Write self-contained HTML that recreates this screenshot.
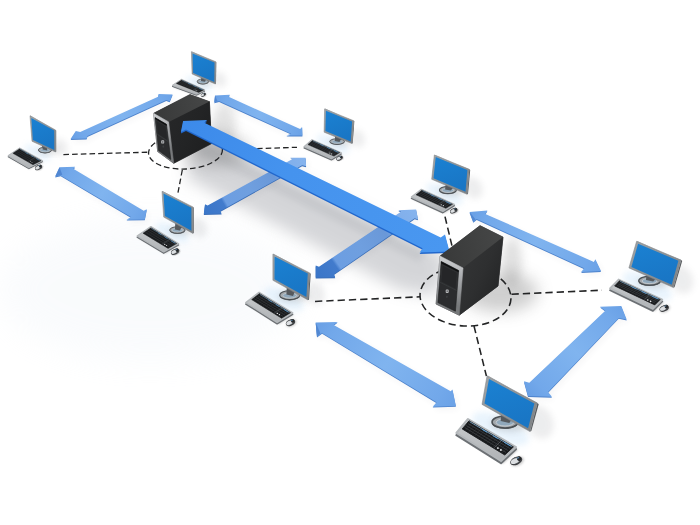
<!DOCTYPE html>
<html lang="en">
<head>
<meta charset="utf-8">
<title>Network diagram</title>
<style>
html,body{margin:0;padding:0;background:#fff;}
body{width:700px;height:525px;overflow:hidden;}
svg{display:block;}
</style>
</head>
<body>
<svg width="700" height="525" viewBox="0 0 700 525">
<defs>
<linearGradient id="svA" gradientUnits="userSpaceOnUse" x1="169" y1="122" x2="212" y2="144"><stop offset="0" stop-color="#262728"/><stop offset=".5" stop-color="#232425"/><stop offset="1" stop-color="#1e1f20"/></linearGradient>
<linearGradient id="stA" gradientUnits="userSpaceOnUse" x1="154" y1="113" x2="209" y2="102"><stop offset="0" stop-color="#383939"/><stop offset="1" stop-color="#464747"/></linearGradient>
<linearGradient id="sfA" gradientUnits="userSpaceOnUse" x1="154" y1="113" x2="158" y2="152"><stop offset="0" stop-color="#cfd1d3"/><stop offset=".35" stop-color="#aeb0b3"/><stop offset="1" stop-color="#77797b"/></linearGradient>
<linearGradient id="sbA" gradientUnits="userSpaceOnUse" x1="169" y1="122" x2="174" y2="163"><stop offset="0" stop-color="#c9cbcd"/><stop offset=".5" stop-color="#9b9da0"/><stop offset="1" stop-color="#6f7173"/></linearGradient>
<linearGradient id="svB" gradientUnits="userSpaceOnUse" x1="463" y1="268" x2="498" y2="286"><stop offset="0" stop-color="#323334"/><stop offset=".5" stop-color="#2e2f30"/><stop offset="1" stop-color="#262728"/></linearGradient>
<linearGradient id="stB" gradientUnits="userSpaceOnUse" x1="440" y1="256" x2="503" y2="237"><stop offset="0" stop-color="#383939"/><stop offset="1" stop-color="#464747"/></linearGradient>
<linearGradient id="sfB" gradientUnits="userSpaceOnUse" x1="440" y1="256" x2="436" y2="304"><stop offset="0" stop-color="#cfd1d3"/><stop offset=".35" stop-color="#aeb0b3"/><stop offset="1" stop-color="#77797b"/></linearGradient>
<linearGradient id="sbB" gradientUnits="userSpaceOnUse" x1="463" y1="268" x2="459" y2="315"><stop offset="0" stop-color="#c9cbcd"/><stop offset=".5" stop-color="#9b9da0"/><stop offset="1" stop-color="#6f7173"/></linearGradient>
<filter id="b1" x="-50%" y="-50%" width="200%" height="200%"><feGaussianBlur stdDeviation="0.8"/></filter>
<filter id="b3" x="-50%" y="-50%" width="200%" height="200%"><feGaussianBlur stdDeviation="3"/></filter>
<filter id="b5" x="-80%" y="-80%" width="260%" height="260%"><feGaussianBlur stdDeviation="5"/></filter>
<filter id="b8" x="-50%" y="-50%" width="200%" height="200%"><feGaussianBlur stdDeviation="8"/></filter>
<filter id="b16" x="-50%" y="-50%" width="200%" height="200%"><feGaussianBlur stdDeviation="16"/></filter>
<linearGradient id="fr" x1="0" y1="0" x2="1" y2="1"><stop offset="0" stop-color="#a0a4a7"/><stop offset="1" stop-color="#7d8184"/></linearGradient>
<linearGradient id="scr" x1="0" y1="0" x2="0.3" y2="1"><stop offset="0" stop-color="#1b81d2"/><stop offset="1" stop-color="#1976c5"/></linearGradient>
<linearGradient id="kb" x1="0" y1="0" x2="0" y2="1"><stop offset="0" stop-color="#c8cbcd"/><stop offset="1" stop-color="#b0b3b6"/></linearGradient>
<linearGradient id="big" gradientUnits="userSpaceOnUse" x1="183" y1="121" x2="448" y2="249"><stop offset="0" stop-color="#3c8aea"/><stop offset=".4" stop-color="#4593ee"/><stop offset="1" stop-color="#4997f0"/></linearGradient>
<linearGradient id="gTL" gradientUnits="userSpaceOnUse" x1="71" y1="139" x2="173" y2="94"><stop offset="0" stop-color="#689fe5"/><stop offset="0.12" stop-color="#72a8ea"/><stop offset="0.5" stop-color="#80b4ef"/><stop offset="0.88" stop-color="#72a8ea"/><stop offset="1" stop-color="#6aa1e6"/></linearGradient>
<linearGradient id="gTR" gradientUnits="userSpaceOnUse" x1="215" y1="96" x2="302" y2="136"><stop offset="0" stop-color="#689fe5"/><stop offset="0.12" stop-color="#72a8ea"/><stop offset="0.5" stop-color="#80b4ef"/><stop offset="0.88" stop-color="#72a8ea"/><stop offset="1" stop-color="#6aa1e6"/></linearGradient>
<linearGradient id="gBL" gradientUnits="userSpaceOnUse" x1="60" y1="167" x2="145" y2="219"><stop offset="0" stop-color="#689fe5"/><stop offset="0.12" stop-color="#72a8ea"/><stop offset="0.5" stop-color="#80b4ef"/><stop offset="0.88" stop-color="#72a8ea"/><stop offset="1" stop-color="#6aa1e6"/></linearGradient>
<linearGradient id="g34" gradientUnits="userSpaceOnUse" x1="204" y1="214" x2="306" y2="158"><stop offset="0" stop-color="#3a76c8"/><stop offset="0.19" stop-color="#427bcc"/><stop offset="0.215" stop-color="#6c9ee2"/><stop offset="0.45" stop-color="#6f9fdf"/><stop offset="0.68" stop-color="#6a98d8"/><stop offset="0.8" stop-color="#80aeea"/><stop offset="1" stop-color="#86b4ee"/></linearGradient>
<linearGradient id="g65" gradientUnits="userSpaceOnUse" x1="316" y1="278" x2="416" y2="209"><stop offset="0" stop-color="#3a76c8"/><stop offset="0.19" stop-color="#427bcc"/><stop offset="0.215" stop-color="#6c9ee2"/><stop offset="0.45" stop-color="#6f9fdf"/><stop offset="0.68" stop-color="#6a98d8"/><stop offset="0.8" stop-color="#80aeea"/><stop offset="1" stop-color="#86b4ee"/></linearGradient>
<linearGradient id="g57" gradientUnits="userSpaceOnUse" x1="470" y1="212" x2="601" y2="271"><stop offset="0" stop-color="#689fe5"/><stop offset="0.12" stop-color="#72a8ea"/><stop offset="0.5" stop-color="#80b4ef"/><stop offset="0.88" stop-color="#72a8ea"/><stop offset="1" stop-color="#6aa1e6"/></linearGradient>
<linearGradient id="g68" gradientUnits="userSpaceOnUse" x1="316" y1="323" x2="456" y2="406"><stop offset="0" stop-color="#689fe5"/><stop offset="0.12" stop-color="#72a8ea"/><stop offset="0.5" stop-color="#80b4ef"/><stop offset="0.88" stop-color="#72a8ea"/><stop offset="1" stop-color="#6aa1e6"/></linearGradient>
<linearGradient id="g87" gradientUnits="userSpaceOnUse" x1="528" y1="396" x2="621" y2="306"><stop offset="0" stop-color="#689fe5"/><stop offset="0.12" stop-color="#72a8ea"/><stop offset="0.5" stop-color="#80b4ef"/><stop offset="0.88" stop-color="#72a8ea"/><stop offset="1" stop-color="#6aa1e6"/></linearGradient>
</defs>
<rect width="700" height="525" fill="#fff"/>
<g id="shadows">
<polygon points="196,128 430,244 448,262 436,296 400,290 186,178" fill="#8b8e96" opacity=".36" filter="url(#b8)"/>
<polygon points="200,140 425,252 420,262 196,152" fill="#7c8088" opacity=".16" filter="url(#b3)"/>
<ellipse cx="215" cy="150" rx="34" ry="16" fill="#777" opacity=".35" filter="url(#b8)"/>
<ellipse cx="224" cy="126" rx="12" ry="22" fill="#777" opacity=".2" filter="url(#b5)"/>
<ellipse cx="512" cy="262" rx="10" ry="24" fill="#777" opacity=".22" filter="url(#b5)"/>
<ellipse cx="500" cy="292" rx="38" ry="20" fill="#777" opacity=".35" filter="url(#b8)"/>
<ellipse cx="150" cy="290" rx="150" ry="70" fill="#e6eef6" opacity=".22" filter="url(#b16)"/>
</g>
<g opacity=".05" filter="url(#b3)" transform="translate(2,3)">
<polygon points="70.6,139.0 75.8,131.0 80.2,132.1 158.1,96.7 158.6,93.9 172.6,94.4 169.7,101.3 166.3,100.1 87.4,136.1 86.6,138.5" fill="#445"/>
<polygon points="215.0,95.5 229.8,94.7 228.6,96.8 300.1,129.0 302.1,127.1 302.4,135.6 286.4,135.6 291.1,133.7 219.1,101.0 214.4,102.3" fill="#445"/>
<polygon points="59.5,167.3 75.2,166.8 73.3,168.8 143.7,210.8 146.8,209.2 144.8,219.4 126.4,219.7 131.1,217.1 60.7,175.4 55.2,176.5" fill="#445"/>
<polygon points="203.8,214.0 205.0,204.2 207.6,205.5 293.0,158.8 290.1,157.7 305.6,157.7 306.1,166.3 302.1,165.3 220.2,211.1 221.7,213.6" fill="#445"/>
<polygon points="315.7,277.5 315.7,265.5 319.0,266.7 401.0,211.7 398.3,210.2 416.1,209.4 418.1,219.4 414.7,218.3 334.0,274.2 335.2,277.3" fill="#445"/>
<polygon points="469.6,212.1 487.4,210.4 485.3,213.9 593.9,261.9 595.4,259.3 601.0,271.1 581.1,272.1 584.3,268.3 476.7,219.0 473.3,221.8" fill="#445"/>
<polygon points="315.7,322.6 337.6,321.9 333.7,324.9 450.7,391.3 452.5,389.5 455.9,405.9 432.7,406.7 436.6,402.3 322.1,332.9 317.0,336.5" fill="#445"/>
<polygon points="528.0,396.0 524.0,381.3 529.3,382.7 605.3,310.7 600.0,306.7 621.3,306.1 626.7,319.5 618.7,317.9 548.0,392.0 552.0,396.8" fill="#445"/>
</g>
<g fill="none" stroke="#232425" stroke-width="1.3" stroke-dasharray="5.6 3.1">
<ellipse cx="185.5" cy="151.5" rx="37" ry="17.5" transform="rotate(-3 185.5 151.5)"/>
<path d="M63.4,154.6 L148.5,152.2"/>
<path d="M257,148.6 L297,147.3"/>
<path d="M182.3,170 L177.4,195.7"/>
</g>
<g fill="none" stroke="#232425" stroke-width="1.55" stroke-dasharray="7.3 4.0">
<ellipse cx="465.5" cy="296.5" rx="45.5" ry="29.5" transform="rotate(3 465.5 296.5)"/>
<path d="M315,301.4 L420,296.8"/>
<path d="M511.5,294.2 L602,290.2"/>
<path d="M474,326 L486.4,376"/>
<path d="M445,216.6 L452,246"/>
</g>
<g id="arrows">
<polygon points="70.6,139.9 75.8,131.9 80.2,133.0 158.1,97.6 158.6,94.8 172.6,95.3 169.7,102.2 166.3,101.0 87.4,137.0 86.6,139.4" fill="#4c82cc"/><polygon points="70.6,139.0 75.8,131.0 80.2,132.1 158.1,96.7 158.6,93.9 172.6,94.4 169.7,101.3 166.3,100.1 87.4,136.1 86.6,138.5" fill="url(#gTL)"/>
<polygon points="215.0,96.4 229.8,95.6 228.6,97.7 300.1,129.9 302.1,128.0 302.4,136.5 286.4,136.5 291.1,134.6 219.1,101.9 214.4,103.2" fill="#4c82cc"/><polygon points="215.0,95.5 229.8,94.7 228.6,96.8 300.1,129.0 302.1,127.1 302.4,135.6 286.4,135.6 291.1,133.7 219.1,101.0 214.4,102.3" fill="url(#gTR)"/>
<polygon points="59.5,168.2 75.2,167.7 73.3,169.7 143.7,211.7 146.8,210.1 144.8,220.3 126.4,220.6 131.1,218.0 60.7,176.3 55.2,177.4" fill="#4c82cc"/><polygon points="59.5,167.3 75.2,166.8 73.3,168.8 143.7,210.8 146.8,209.2 144.8,219.4 126.4,219.7 131.1,217.1 60.7,175.4 55.2,176.5" fill="url(#gBL)"/>
<polygon points="203.8,214.9 205.0,205.1 207.6,206.4 293.0,159.7 290.1,158.6 305.6,158.6 306.1,167.2 302.1,166.2 220.2,212.0 221.7,214.5" fill="#3a6eb8"/><polygon points="203.8,214.0 205.0,204.2 207.6,205.5 293.0,158.8 290.1,157.7 305.6,157.7 306.1,166.3 302.1,165.3 220.2,211.1 221.7,213.6" fill="url(#g34)"/>
<polygon points="315.7,278.4 315.7,266.4 319.0,267.6 401.0,212.6 398.3,211.1 416.1,210.3 418.1,220.3 414.7,219.2 334.0,275.1 335.2,278.2" fill="#3a6eb8"/><polygon points="315.7,277.5 315.7,265.5 319.0,266.7 401.0,211.7 398.3,210.2 416.1,209.4 418.1,219.4 414.7,218.3 334.0,274.2 335.2,277.3" fill="url(#g65)"/>
<polygon points="469.6,213.0 487.4,211.3 485.3,214.8 593.9,262.8 595.4,260.2 601.0,272.0 581.1,273.0 584.3,269.2 476.7,219.9 473.3,222.7" fill="#4c82cc"/><polygon points="469.6,212.1 487.4,210.4 485.3,213.9 593.9,261.9 595.4,259.3 601.0,271.1 581.1,272.1 584.3,268.3 476.7,219.0 473.3,221.8" fill="url(#g57)"/>
<polygon points="315.7,323.5 337.6,322.8 333.7,325.8 450.7,392.2 452.5,390.4 455.9,406.8 432.7,407.6 436.6,403.2 322.1,333.8 317.0,337.4" fill="#4c82cc"/><polygon points="315.7,322.6 337.6,321.9 333.7,324.9 450.7,391.3 452.5,389.5 455.9,405.9 432.7,406.7 436.6,402.3 322.1,332.9 317.0,336.5" fill="url(#g68)"/>
<polygon points="528.0,396.9 524.0,382.2 529.3,383.6 605.3,311.6 600.0,307.6 621.3,307.0 626.7,320.4 618.7,318.8 548.0,392.9 552.0,397.7" fill="#4c82cc"/><polygon points="528.0,396.0 524.0,381.3 529.3,382.7 605.3,310.7 600.0,306.7 621.3,306.1 626.7,319.5 618.7,317.9 548.0,392.0 552.0,396.8" fill="url(#g87)"/>
<polygon points="59.5,167.3 55.2,176.5 62.3,174.8" fill="#4a7fcb" opacity=".75"/>
<polygon points="215.0,95.5 214.4,102.3 217.6,101.2" fill="#4a7fcb" opacity=".75"/>
<polygon points="469.6,212.1 473.3,221.8 475.6,219.6" fill="#4a7fcb" opacity=".75"/>
<polygon points="315.7,322.6 317.0,336.5 320.4,333.4" fill="#4a7fcb" opacity=".75"/>
</g>
<g id="pc1">
<ellipse cx="199.2" cy="83.7" rx="14.3" ry="5.7" fill="#d3e9fb" opacity=".5" filter="url(#b3)" transform="rotate(24 199.2 82.7)"/>
<ellipse cx="205.5" cy="82.1" rx="8.6" ry="3.2" fill="#555" opacity=".2" filter="url(#b3)"/>
<ellipse cx="219.8" cy="79.6" rx="6.1" ry="7.9" fill="#60646a" opacity=".11" filter="url(#b3)" transform="rotate(-25 219.8 79.6)"/>
<ellipse cx="202.9" cy="81.9" rx="5.7" ry="2.5" fill="#5d6164"/>
<ellipse cx="202.9" cy="81.4" rx="5.7" ry="2.5" fill="#a3a8ac" stroke="#4b5054" stroke-width="0.70"/>
<ellipse cx="202.9" cy="81.6" rx="3.9" ry="1.5" fill="#8ea9bd" stroke="#dfe3e6" stroke-width="0.31" opacity=".9"/>
<polygon points="201.4,76.2 207.0,78.6 204.8,81.8 201.0,81.0" fill="#55595d"/>
<polygon points="215.7,61.7 216.3,62.3 216.0,83.8 215.4,84.0" fill="#55595c"/>
<polygon points="191.4,51.7 191.8,51.5 216.3,62.3 215.7,61.7" fill="#9da1a4"/>
<polygon points="191.4,51.7 215.7,61.7 215.4,84.0 192.1,74.0" fill="url(#fr)" stroke="#7b7f83" stroke-width=".5"/>
<polygon points="192.5,53.5 214.5,62.5 214.3,81.9 193.1,72.9" fill="url(#scr)"/>
<polygon points="182.3,80.6 205.9,91.3 197.3,95.6 173.0,86.7" fill="#666" opacity=".35" filter="url(#b1)"/>
<polygon points="181.4,80.3 205.0,91.0 196.4,95.3 172.1,86.4" fill="#6c7074" stroke="#6c7074" stroke-width="0.94" stroke-linejoin="round"/>
<polygon points="181.4,79.3 205.0,90.0 196.4,94.3 172.1,85.4" fill="url(#kb)" stroke="#b4b8bb" stroke-width="0.94" stroke-linejoin="round"/>
<polygon points="181.7,80.0 203.7,89.9 198.7,92.4 176.3,83.5" fill="#17191b" stroke="#17191b" stroke-width="0.39" stroke-linejoin="round"/>
<line x1="180.6" y1="81.2" x2="201.8" y2="90.4" stroke="#4a4e52" stroke-width="0.27"/>
<line x1="179.3" y1="82.0" x2="200.6" y2="91.0" stroke="#4a4e52" stroke-width="0.27"/>
<line x1="178.0" y1="82.9" x2="199.4" y2="91.6" stroke="#4a4e52" stroke-width="0.27"/>
<line x1="182.6" y1="81.2" x2="178.2" y2="84.0" stroke="#3a3d40" stroke-width="0.20"/>
<line x1="184.2" y1="81.8" x2="179.8" y2="84.6" stroke="#3a3d40" stroke-width="0.20"/>
<line x1="185.7" y1="82.5" x2="181.3" y2="85.3" stroke="#3a3d40" stroke-width="0.20"/>
<line x1="187.3" y1="83.2" x2="182.9" y2="85.9" stroke="#3a3d40" stroke-width="0.20"/>
<line x1="188.9" y1="83.9" x2="184.5" y2="86.6" stroke="#3a3d40" stroke-width="0.20"/>
<line x1="190.5" y1="84.6" x2="186.1" y2="87.2" stroke="#3a3d40" stroke-width="0.20"/>
<line x1="192.0" y1="85.3" x2="187.7" y2="87.8" stroke="#3a3d40" stroke-width="0.20"/>
<line x1="193.6" y1="86.0" x2="189.3" y2="88.5" stroke="#3a3d40" stroke-width="0.20"/>
<line x1="195.2" y1="86.7" x2="190.9" y2="89.1" stroke="#3a3d40" stroke-width="0.20"/>
<line x1="196.8" y1="87.4" x2="192.5" y2="89.7" stroke="#3a3d40" stroke-width="0.20"/>
<line x1="198.3" y1="88.1" x2="194.1" y2="90.4" stroke="#3a3d40" stroke-width="0.20"/>
<line x1="199.9" y1="88.8" x2="195.7" y2="91.0" stroke="#3a3d40" stroke-width="0.20"/>
<line x1="201.5" y1="89.5" x2="197.3" y2="91.7" stroke="#3a3d40" stroke-width="0.20"/>
<line x1="197.7" y1="87.5" x2="193.1" y2="90.0" stroke="#5a5e62" stroke-width="0.35"/>
<line x1="181.9" y1="80.4" x2="203.0" y2="89.8" stroke="#7fa9c9" stroke-width="0.39"/>
<line x1="187.9" y1="83.2" x2="190.5" y2="84.4" stroke="#5a9ed6" stroke-width="0.43"/>
<line x1="193.4" y1="85.7" x2="195.8" y2="86.7" stroke="#5a9ed6" stroke-width="0.43"/>
<line x1="198.9" y1="88.1" x2="202.2" y2="89.6" stroke="#5a9ed6" stroke-width="0.43"/>
<circle cx="195.2" cy="90.1" r="0.43" fill="#e8eaec"/>
<circle cx="196.8" cy="90.7" r="0.43" fill="#e8eaec"/>
<g transform="translate(203.2,94.6) rotate(-25) scale(0.55)">
<ellipse cx="0.6" cy="1.2" rx="5.4" ry="3.2" fill="#555" opacity=".3" filter="url(#b1)"/>
<ellipse cx="0" cy="0.5" rx="4.9" ry="2.9" fill="#3a3c3f"/>
<ellipse cx="0" cy="0" rx="4.6" ry="2.6" fill="#55585b"/>
<ellipse cx="-0.9" cy="0.1" rx="3.4" ry="1.9" fill="#dcdfe2"/>
<ellipse cx="2.7" cy="-0.2" rx="1.7" ry="1.8" fill="#26282a"/>
<ellipse cx="2.2" cy="-1.1" rx="1.1" ry="0.5" fill="#6fa8d8" opacity=".7"/>
</g>
</g>
<g id="serverA"><polygon points="153.5,113.3 190.0,94.4 209.4,101.6 211.5,143.6 173.7,163.3 157.7,151.5" fill="#2e2f30" stroke="#2e2f30" stroke-width=".5" stroke-linejoin="round"/>
<polygon points="168.6,121.9 209.4,101.6 211.5,143.6 173.7,163.3" fill="url(#svA)" stroke="url(#svA)" stroke-width=".5"/>
<polygon points="153.5,113.3 190.0,94.4 209.4,101.6 168.6,121.9" fill="url(#stA)"/>
<polygon points="153.5,113.3 168.6,121.9 173.7,163.3 157.7,151.5" fill="url(#sfA)" stroke="url(#sfA)" stroke-width=".6" stroke-linejoin="round"/>
<polygon points="155.0,117.6 166.5,124.3 170.8,159.5 158.6,150.6" fill="#2b2c2e" stroke="#1d1e1f" stroke-width=".6" stroke-linejoin="round"/>
<polygon points="155.0,117.6 166.5,124.3 166.7,125.9 155.1,119.0" fill="#0f1011"/>
<polygon points="156.0,120.3 166.0,126.3 167.7,140.6 157.5,134.0" fill="#252628" stroke="#343638" stroke-width=".5"/>
<line x1="157.2" y1="134.3" x2="168.3" y2="141.7" stroke="#3a3c3e" stroke-width=".7"/>
<rect x="161.2" y="140.2" width="3" height="3.4" rx=".9" fill="#b9bbbd"/>
<rect x="162.0" y="141.0" width="1.4" height="1.8" rx=".4" fill="#6a6c6e"/>
<rect x="162.5" y="145.5" width="1.6" height="2" rx=".5" fill="#3c3e40"/></g>
<g id="pc2">
<ellipse cx="38.1" cy="152.6" rx="14.5" ry="5.8" fill="#d3e9fb" opacity=".5" filter="url(#b3)" transform="rotate(24 38.1 151.6)"/>
<ellipse cx="47.9" cy="150.8" rx="9.9" ry="3.6" fill="#555" opacity=".2" filter="url(#b3)"/>
<ellipse cx="60.4" cy="147.1" rx="6.8" ry="8.8" fill="#60646a" opacity=".11" filter="url(#b3)" transform="rotate(-25 60.4 147.1)"/>
<ellipse cx="45.0" cy="150.6" rx="6.6" ry="2.8" fill="#5d6164"/>
<ellipse cx="45.0" cy="150.0" rx="6.6" ry="2.8" fill="#a3a8ac" stroke="#4b5054" stroke-width="0.78"/>
<ellipse cx="45.0" cy="150.2" rx="4.5" ry="1.7" fill="#8ea9bd" stroke="#dfe3e6" stroke-width="0.34" opacity=".9"/>
<polygon points="41.4,143.6 47.0,146.2 47.2,150.4 42.8,149.6" fill="#55595d"/>
<polygon points="55.5,130.0 56.2,130.6 56.2,151.8 55.5,152.0" fill="#55595c"/>
<polygon points="30.0,115.8 30.4,115.6 56.2,130.6 55.5,130.0" fill="#9da1a4"/>
<polygon points="30.0,115.8 55.5,130.0 55.5,152.0 32.0,141.3" fill="url(#fr)" stroke="#7b7f83" stroke-width=".5"/>
<polygon points="31.3,118.0 54.2,130.6 54.3,149.9 32.9,140.0" fill="url(#scr)"/>
<polygon points="20.6,149.2 43.7,162.0 29.8,169.0 8.9,157.0" fill="#666" opacity=".35" filter="url(#b1)"/>
<polygon points="19.6,148.9 42.7,161.7 28.8,168.7 7.9,156.7" fill="#6c7074" stroke="#6c7074" stroke-width="0.96" stroke-linejoin="round"/>
<polygon points="19.6,147.9 42.7,160.7 28.8,167.7 7.9,155.7" fill="url(#kb)" stroke="#b4b8bb" stroke-width="0.96" stroke-linejoin="round"/>
<polygon points="19.7,148.8 41.1,160.7 33.0,164.7 12.9,153.3" fill="#17191b" stroke="#17191b" stroke-width="0.40" stroke-linejoin="round"/>
<line x1="18.2" y1="150.3" x2="38.4" y2="161.6" stroke="#4a4e52" stroke-width="0.28"/>
<line x1="16.6" y1="151.4" x2="36.5" y2="162.6" stroke="#4a4e52" stroke-width="0.28"/>
<line x1="14.9" y1="152.5" x2="34.6" y2="163.5" stroke="#4a4e52" stroke-width="0.28"/>
<line x1="20.4" y1="150.2" x2="14.7" y2="153.9" stroke="#3a3d40" stroke-width="0.20"/>
<line x1="21.9" y1="151.0" x2="16.1" y2="154.7" stroke="#3a3d40" stroke-width="0.20"/>
<line x1="23.4" y1="151.9" x2="17.5" y2="155.6" stroke="#3a3d40" stroke-width="0.20"/>
<line x1="24.9" y1="152.7" x2="19.0" y2="156.4" stroke="#3a3d40" stroke-width="0.20"/>
<line x1="26.5" y1="153.6" x2="20.4" y2="157.2" stroke="#3a3d40" stroke-width="0.20"/>
<line x1="28.0" y1="154.4" x2="21.9" y2="158.0" stroke="#3a3d40" stroke-width="0.20"/>
<line x1="29.5" y1="155.3" x2="23.3" y2="158.8" stroke="#3a3d40" stroke-width="0.20"/>
<line x1="31.0" y1="156.1" x2="24.8" y2="159.6" stroke="#3a3d40" stroke-width="0.20"/>
<line x1="32.5" y1="156.9" x2="26.2" y2="160.5" stroke="#3a3d40" stroke-width="0.20"/>
<line x1="34.0" y1="157.8" x2="27.7" y2="161.3" stroke="#3a3d40" stroke-width="0.20"/>
<line x1="35.6" y1="158.6" x2="29.1" y2="162.1" stroke="#3a3d40" stroke-width="0.20"/>
<line x1="37.1" y1="159.5" x2="30.6" y2="162.9" stroke="#3a3d40" stroke-width="0.20"/>
<line x1="38.6" y1="160.3" x2="32.0" y2="163.7" stroke="#3a3d40" stroke-width="0.20"/>
<line x1="35.1" y1="157.8" x2="28.2" y2="161.6" stroke="#5a5e62" stroke-width="0.36"/>
<line x1="19.9" y1="149.2" x2="40.3" y2="160.6" stroke="#7fa9c9" stroke-width="0.40"/>
<line x1="25.6" y1="152.7" x2="28.2" y2="154.1" stroke="#5a9ed6" stroke-width="0.44"/>
<line x1="30.9" y1="155.6" x2="33.3" y2="156.9" stroke="#5a9ed6" stroke-width="0.44"/>
<line x1="36.2" y1="158.6" x2="39.4" y2="160.4" stroke="#5a9ed6" stroke-width="0.44"/>
<circle cx="30.6" cy="161.6" r="0.44" fill="#e8eaec"/>
<circle cx="32.0" cy="162.4" r="0.44" fill="#e8eaec"/>
<g transform="translate(38.4,167.2) rotate(-25) scale(0.78)">
<ellipse cx="0.6" cy="1.2" rx="5.4" ry="3.2" fill="#555" opacity=".3" filter="url(#b1)"/>
<ellipse cx="0" cy="0.5" rx="4.9" ry="2.9" fill="#3a3c3f"/>
<ellipse cx="0" cy="0" rx="4.6" ry="2.6" fill="#55585b"/>
<ellipse cx="-0.9" cy="0.1" rx="3.4" ry="1.9" fill="#dcdfe2"/>
<ellipse cx="2.7" cy="-0.2" rx="1.7" ry="1.8" fill="#26282a"/>
<ellipse cx="2.2" cy="-1.1" rx="1.1" ry="0.5" fill="#6fa8d8" opacity=".7"/>
</g>
</g>
<g id="pc4">
<ellipse cx="333.4" cy="144.2" rx="17.6" ry="7.1" fill="#d3e9fb" opacity=".5" filter="url(#b3)" transform="rotate(24 333.4 143.2)"/>
<ellipse cx="340.2" cy="142.3" rx="11.1" ry="3.6" fill="#555" opacity=".2" filter="url(#b3)"/>
<ellipse cx="357.2" cy="138.4" rx="7.3" ry="9.4" fill="#60646a" opacity=".11" filter="url(#b3)" transform="rotate(-25 357.2 138.4)"/>
<ellipse cx="337.1" cy="142.1" rx="7.4" ry="2.8" fill="#5d6164"/>
<ellipse cx="337.1" cy="141.5" rx="7.4" ry="2.8" fill="#a3a8ac" stroke="#4b5054" stroke-width="0.83"/>
<ellipse cx="337.1" cy="141.7" rx="5.0" ry="1.7" fill="#8ea9bd" stroke="#dfe3e6" stroke-width="0.37" opacity=".9"/>
<polygon points="335.3,134.7 342.0,137.4 339.5,141.9 334.7,141.1" fill="#55595d"/>
<polygon points="353.6,120.7 354.3,121.4 352.7,143.3 352.0,143.6" fill="#55595c"/>
<polygon points="324.6,108.9 325.0,108.6 354.3,121.4 353.6,120.7" fill="#9da1a4"/>
<polygon points="324.6,108.9 353.6,120.7 352.0,143.6 324.1,132.2" fill="url(#fr)" stroke="#7b7f83" stroke-width=".5"/>
<polygon points="325.9,110.8 352.1,121.5 350.7,141.4 325.4,131.1" fill="url(#scr)"/>
<polygon points="313.2,141.3 342.5,154.3 332.6,160.3 305.2,148.2" fill="#666" opacity=".35" filter="url(#b1)"/>
<polygon points="312.0,141.0 341.3,154.0 331.4,160.0 304.0,147.9" fill="#6c7074" stroke="#6c7074" stroke-width="1.17" stroke-linejoin="round"/>
<polygon points="312.0,139.7 341.3,152.7 331.4,158.7 304.0,146.6" fill="url(#kb)" stroke="#b4b8bb" stroke-width="1.17" stroke-linejoin="round"/>
<polygon points="312.5,140.6 339.7,152.6 334.0,156.1 307.9,144.6" fill="#17191b" stroke="#17191b" stroke-width="0.49" stroke-linejoin="round"/>
<line x1="311.8" y1="141.9" x2="337.6" y2="153.3" stroke="#4a4e52" stroke-width="0.34"/>
<line x1="310.6" y1="142.9" x2="336.2" y2="154.2" stroke="#4a4e52" stroke-width="0.34"/>
<line x1="309.5" y1="143.8" x2="334.8" y2="155.0" stroke="#4a4e52" stroke-width="0.34"/>
<line x1="313.9" y1="141.9" x2="310.0" y2="145.2" stroke="#3a3d40" stroke-width="0.24"/>
<line x1="315.8" y1="142.8" x2="311.8" y2="146.0" stroke="#3a3d40" stroke-width="0.24"/>
<line x1="317.8" y1="143.6" x2="313.7" y2="146.8" stroke="#3a3d40" stroke-width="0.24"/>
<line x1="319.7" y1="144.5" x2="315.6" y2="147.7" stroke="#3a3d40" stroke-width="0.24"/>
<line x1="321.6" y1="145.3" x2="317.4" y2="148.5" stroke="#3a3d40" stroke-width="0.24"/>
<line x1="323.6" y1="146.2" x2="319.3" y2="149.3" stroke="#3a3d40" stroke-width="0.24"/>
<line x1="325.5" y1="147.0" x2="321.2" y2="150.1" stroke="#3a3d40" stroke-width="0.24"/>
<line x1="327.4" y1="147.9" x2="323.1" y2="151.0" stroke="#3a3d40" stroke-width="0.24"/>
<line x1="329.4" y1="148.7" x2="324.9" y2="151.8" stroke="#3a3d40" stroke-width="0.24"/>
<line x1="331.3" y1="149.6" x2="326.8" y2="152.6" stroke="#3a3d40" stroke-width="0.24"/>
<line x1="333.2" y1="150.5" x2="328.7" y2="153.4" stroke="#3a3d40" stroke-width="0.24"/>
<line x1="335.1" y1="151.3" x2="330.5" y2="154.3" stroke="#3a3d40" stroke-width="0.24"/>
<line x1="337.1" y1="152.2" x2="332.4" y2="155.1" stroke="#3a3d40" stroke-width="0.24"/>
<line x1="332.4" y1="149.7" x2="327.5" y2="152.9" stroke="#5a5e62" stroke-width="0.44"/>
<line x1="312.9" y1="141.0" x2="338.9" y2="152.5" stroke="#7fa9c9" stroke-width="0.49"/>
<line x1="320.3" y1="144.4" x2="323.6" y2="145.9" stroke="#5a9ed6" stroke-width="0.53"/>
<line x1="327.1" y1="147.4" x2="330.1" y2="148.8" stroke="#5a9ed6" stroke-width="0.53"/>
<line x1="333.9" y1="150.5" x2="337.9" y2="152.3" stroke="#5a9ed6" stroke-width="0.53"/>
<circle cx="329.9" cy="153.1" r="0.53" fill="#e8eaec"/>
<circle cx="331.7" cy="153.9" r="0.53" fill="#e8eaec"/>
<g transform="translate(339.4,158.0) rotate(-25) scale(0.70)">
<ellipse cx="0.6" cy="1.2" rx="5.4" ry="3.2" fill="#555" opacity=".3" filter="url(#b1)"/>
<ellipse cx="0" cy="0.5" rx="4.9" ry="2.9" fill="#3a3c3f"/>
<ellipse cx="0" cy="0" rx="4.6" ry="2.6" fill="#55585b"/>
<ellipse cx="-0.9" cy="0.1" rx="3.4" ry="1.9" fill="#dcdfe2"/>
<ellipse cx="2.7" cy="-0.2" rx="1.7" ry="1.8" fill="#26282a"/>
<ellipse cx="2.2" cy="-1.1" rx="1.1" ry="0.5" fill="#6fa8d8" opacity=".7"/>
</g>
</g>
<g id="pc5">
<ellipse cx="444.9" cy="194.1" rx="19.9" ry="8.0" fill="#d3e9fb" opacity=".5" filter="url(#b3)" transform="rotate(24 444.9 193.1)"/>
<ellipse cx="451.7" cy="191.0" rx="12.8" ry="4.5" fill="#555" opacity=".2" filter="url(#b3)"/>
<ellipse cx="473.4" cy="188.0" rx="8.8" ry="11.3" fill="#60646a" opacity=".11" filter="url(#b3)" transform="rotate(-25 473.4 188.0)"/>
<ellipse cx="447.9" cy="190.8" rx="8.5" ry="3.5" fill="#5d6164"/>
<ellipse cx="447.9" cy="190.0" rx="8.5" ry="3.5" fill="#a3a8ac" stroke="#4b5054" stroke-width="1.01"/>
<ellipse cx="447.9" cy="190.3" rx="5.8" ry="2.1" fill="#8ea9bd" stroke="#dfe3e6" stroke-width="0.44" opacity=".9"/>
<polygon points="445.9,182.8 454.4,186.4 450.7,190.5 445.1,189.5" fill="#55595d"/>
<polygon points="469.3,169.3 470.2,170.1 468.0,194.0 467.1,194.3" fill="#55595c"/>
<polygon points="434.3,155.0 434.8,154.7 470.2,170.1 469.3,169.3" fill="#9da1a4"/>
<polygon points="434.3,155.0 469.3,169.3 467.1,194.3 431.7,179.3" fill="url(#fr)" stroke="#7b7f83" stroke-width=".5"/>
<polygon points="435.7,157.1 467.4,170.1 465.5,191.8 433.5,178.3" fill="url(#scr)"/>
<polygon points="422.7,191.1 455.6,206.1 444.2,213.2 412.7,198.9" fill="#666" opacity=".35" filter="url(#b1)"/>
<polygon points="421.4,190.7 454.3,205.7 442.9,212.8 411.4,198.5" fill="#6c7074" stroke="#6c7074" stroke-width="1.31" stroke-linejoin="round"/>
<polygon points="421.4,189.3 454.3,204.3 442.9,211.4 411.4,197.1" fill="url(#kb)" stroke="#b4b8bb" stroke-width="1.31" stroke-linejoin="round"/>
<polygon points="421.9,190.3 452.5,204.2 445.9,208.3 416.1,194.8" fill="#17191b" stroke="#17191b" stroke-width="0.55" stroke-linejoin="round"/>
<line x1="420.9" y1="191.8" x2="450.0" y2="205.1" stroke="#4a4e52" stroke-width="0.38"/>
<line x1="419.5" y1="192.9" x2="448.4" y2="206.1" stroke="#4a4e52" stroke-width="0.38"/>
<line x1="418.1" y1="194.0" x2="446.9" y2="207.1" stroke="#4a4e52" stroke-width="0.38"/>
<line x1="423.4" y1="191.8" x2="418.5" y2="195.5" stroke="#3a3d40" stroke-width="0.27"/>
<line x1="425.6" y1="192.8" x2="420.7" y2="196.5" stroke="#3a3d40" stroke-width="0.27"/>
<line x1="427.8" y1="193.8" x2="422.8" y2="197.5" stroke="#3a3d40" stroke-width="0.27"/>
<line x1="429.9" y1="194.8" x2="424.9" y2="198.4" stroke="#3a3d40" stroke-width="0.27"/>
<line x1="432.1" y1="195.8" x2="427.1" y2="199.4" stroke="#3a3d40" stroke-width="0.27"/>
<line x1="434.3" y1="196.8" x2="429.2" y2="200.4" stroke="#3a3d40" stroke-width="0.27"/>
<line x1="436.5" y1="197.8" x2="431.3" y2="201.4" stroke="#3a3d40" stroke-width="0.27"/>
<line x1="438.6" y1="198.8" x2="433.4" y2="202.3" stroke="#3a3d40" stroke-width="0.27"/>
<line x1="440.8" y1="199.7" x2="435.6" y2="203.3" stroke="#3a3d40" stroke-width="0.27"/>
<line x1="443.0" y1="200.7" x2="437.7" y2="204.3" stroke="#3a3d40" stroke-width="0.27"/>
<line x1="445.2" y1="201.7" x2="439.8" y2="205.2" stroke="#3a3d40" stroke-width="0.27"/>
<line x1="447.3" y1="202.7" x2="442.0" y2="206.2" stroke="#3a3d40" stroke-width="0.27"/>
<line x1="449.5" y1="203.7" x2="444.1" y2="207.2" stroke="#3a3d40" stroke-width="0.27"/>
<line x1="444.2" y1="200.8" x2="438.5" y2="204.6" stroke="#5a5e62" stroke-width="0.49"/>
<line x1="422.3" y1="190.7" x2="451.6" y2="204.1" stroke="#7fa9c9" stroke-width="0.55"/>
<line x1="430.7" y1="194.8" x2="434.3" y2="196.4" stroke="#5a9ed6" stroke-width="0.60"/>
<line x1="438.3" y1="198.2" x2="441.6" y2="199.8" stroke="#5a9ed6" stroke-width="0.60"/>
<line x1="445.9" y1="201.7" x2="450.5" y2="203.8" stroke="#5a9ed6" stroke-width="0.60"/>
<circle cx="441.2" cy="204.8" r="0.60" fill="#e8eaec"/>
<circle cx="443.3" cy="205.7" r="0.60" fill="#e8eaec"/>
<g transform="translate(453.6,210.4) rotate(-25) scale(0.80)">
<ellipse cx="0.6" cy="1.2" rx="5.4" ry="3.2" fill="#555" opacity=".3" filter="url(#b1)"/>
<ellipse cx="0" cy="0.5" rx="4.9" ry="2.9" fill="#3a3c3f"/>
<ellipse cx="0" cy="0" rx="4.6" ry="2.6" fill="#55585b"/>
<ellipse cx="-0.9" cy="0.1" rx="3.4" ry="1.9" fill="#dcdfe2"/>
<ellipse cx="2.7" cy="-0.2" rx="1.7" ry="1.8" fill="#26282a"/>
<ellipse cx="2.2" cy="-1.1" rx="1.1" ry="0.5" fill="#6fa8d8" opacity=".7"/>
</g>
</g>
<g id="pc3">
<ellipse cx="172.4" cy="232.6" rx="17.9" ry="7.2" fill="#d3e9fb" opacity=".5" filter="url(#b3)" transform="rotate(24 172.4 231.6)"/>
<ellipse cx="180.9" cy="230.9" rx="11.6" ry="4.2" fill="#555" opacity=".2" filter="url(#b3)"/>
<ellipse cx="198.7" cy="227.6" rx="8.1" ry="10.4" fill="#60646a" opacity=".11" filter="url(#b3)" transform="rotate(-25 198.7 227.6)"/>
<ellipse cx="177.4" cy="230.7" rx="7.7" ry="3.2" fill="#5d6164"/>
<ellipse cx="177.4" cy="230.0" rx="7.7" ry="3.2" fill="#a3a8ac" stroke="#4b5054" stroke-width="0.92"/>
<ellipse cx="177.4" cy="230.2" rx="5.2" ry="1.9" fill="#8ea9bd" stroke="#dfe3e6" stroke-width="0.40" opacity=".9"/>
<polygon points="175.4,221.3 182.4,225.2 179.9,230.5 174.9,229.5" fill="#55595d"/>
<polygon points="192.9,206.9 193.7,207.6 193.7,233.1 192.9,233.4" fill="#55595c"/>
<polygon points="162.0,191.4 162.5,191.1 193.7,207.6 192.9,206.9" fill="#9da1a4"/>
<polygon points="162.0,191.4 192.9,206.9 192.9,233.4 163.7,217.1" fill="url(#fr)" stroke="#7b7f83" stroke-width=".5"/>
<polygon points="163.5,193.6 191.4,207.7 191.4,230.7 164.9,216.0" fill="url(#scr)"/>
<polygon points="152.1,228.2 179.8,245.3 164.9,253.6 138.3,237.6" fill="#666" opacity=".35" filter="url(#b1)"/>
<polygon points="150.9,227.9 178.6,245.0 163.7,253.3 137.1,237.3" fill="#6c7074" stroke="#6c7074" stroke-width="1.18" stroke-linejoin="round"/>
<polygon points="150.9,226.6 178.6,243.7 163.7,252.0 137.1,236.0" fill="url(#kb)" stroke="#b4b8bb" stroke-width="1.18" stroke-linejoin="round"/>
<polygon points="151.0,227.8 176.7,243.6 168.1,248.4 143.0,233.2" fill="#17191b" stroke="#17191b" stroke-width="0.49" stroke-linejoin="round"/>
<line x1="149.3" y1="229.6" x2="173.8" y2="244.6" stroke="#4a4e52" stroke-width="0.35"/>
<line x1="147.4" y1="230.9" x2="171.7" y2="245.8" stroke="#4a4e52" stroke-width="0.35"/>
<line x1="145.4" y1="232.2" x2="169.7" y2="247.0" stroke="#4a4e52" stroke-width="0.35"/>
<line x1="151.9" y1="229.5" x2="145.2" y2="234.0" stroke="#3a3d40" stroke-width="0.25"/>
<line x1="153.7" y1="230.7" x2="147.0" y2="235.1" stroke="#3a3d40" stroke-width="0.25"/>
<line x1="155.6" y1="231.8" x2="148.8" y2="236.2" stroke="#3a3d40" stroke-width="0.25"/>
<line x1="157.4" y1="232.9" x2="150.6" y2="237.3" stroke="#3a3d40" stroke-width="0.25"/>
<line x1="159.2" y1="234.0" x2="152.4" y2="238.4" stroke="#3a3d40" stroke-width="0.25"/>
<line x1="161.1" y1="235.2" x2="154.2" y2="239.5" stroke="#3a3d40" stroke-width="0.25"/>
<line x1="162.9" y1="236.3" x2="156.0" y2="240.6" stroke="#3a3d40" stroke-width="0.25"/>
<line x1="164.7" y1="237.4" x2="157.8" y2="241.6" stroke="#3a3d40" stroke-width="0.25"/>
<line x1="166.6" y1="238.5" x2="159.6" y2="242.7" stroke="#3a3d40" stroke-width="0.25"/>
<line x1="168.4" y1="239.7" x2="161.4" y2="243.8" stroke="#3a3d40" stroke-width="0.25"/>
<line x1="170.2" y1="240.8" x2="163.2" y2="244.9" stroke="#3a3d40" stroke-width="0.25"/>
<line x1="172.0" y1="241.9" x2="165.0" y2="246.0" stroke="#3a3d40" stroke-width="0.25"/>
<line x1="173.9" y1="243.1" x2="166.8" y2="247.1" stroke="#3a3d40" stroke-width="0.25"/>
<line x1="169.6" y1="239.7" x2="162.0" y2="244.2" stroke="#5a5e62" stroke-width="0.44"/>
<line x1="151.2" y1="228.3" x2="175.9" y2="243.5" stroke="#7fa9c9" stroke-width="0.49"/>
<line x1="158.2" y1="232.9" x2="161.3" y2="234.8" stroke="#5a9ed6" stroke-width="0.54"/>
<line x1="164.6" y1="236.8" x2="167.4" y2="238.6" stroke="#5a9ed6" stroke-width="0.54"/>
<line x1="171.0" y1="240.8" x2="174.9" y2="243.2" stroke="#5a9ed6" stroke-width="0.54"/>
<circle cx="164.8" cy="244.4" r="0.54" fill="#e8eaec"/>
<circle cx="166.6" cy="245.5" r="0.54" fill="#e8eaec"/>
<g transform="translate(174.9,251.4) rotate(-25) scale(0.90)">
<ellipse cx="0.6" cy="1.2" rx="5.4" ry="3.2" fill="#555" opacity=".3" filter="url(#b1)"/>
<ellipse cx="0" cy="0.5" rx="4.9" ry="2.9" fill="#3a3c3f"/>
<ellipse cx="0" cy="0" rx="4.6" ry="2.6" fill="#55585b"/>
<ellipse cx="-0.9" cy="0.1" rx="3.4" ry="1.9" fill="#dcdfe2"/>
<ellipse cx="2.7" cy="-0.2" rx="1.7" ry="1.8" fill="#26282a"/>
<ellipse cx="2.2" cy="-1.1" rx="1.1" ry="0.5" fill="#6fa8d8" opacity=".7"/>
</g>
</g>
<g id="pc6">
<ellipse cx="284.3" cy="299.1" rx="21.6" ry="8.7" fill="#d3e9fb" opacity=".5" filter="url(#b3)" transform="rotate(24 284.3 298.1)"/>
<ellipse cx="293.8" cy="296.3" rx="15.0" ry="5.7" fill="#555" opacity=".2" filter="url(#b3)"/>
<ellipse cx="314.9" cy="293.1" rx="9.6" ry="12.4" fill="#60646a" opacity=".11" filter="url(#b3)" transform="rotate(-25 314.9 293.1)"/>
<ellipse cx="289.7" cy="296.0" rx="10.0" ry="4.4" fill="#5d6164"/>
<ellipse cx="289.7" cy="295.2" rx="10.0" ry="4.4" fill="#a3a8ac" stroke="#4b5054" stroke-width="1.10"/>
<ellipse cx="289.7" cy="295.5" rx="6.8" ry="2.6" fill="#8ea9bd" stroke="#dfe3e6" stroke-width="0.48" opacity=".9"/>
<polygon points="286.9,285.4 295.4,290.2 293.0,295.9 286.4,294.5" fill="#55595d"/>
<polygon points="309.7,272.9 310.7,273.8 309.0,299.7 308.0,300.0" fill="#55595c"/>
<polygon points="272.9,254.1 273.5,253.8 310.7,273.8 309.7,272.9" fill="#9da1a4"/>
<polygon points="272.9,254.1 309.7,272.9 308.0,300.0 272.9,280.3" fill="url(#fr)" stroke="#7b7f83" stroke-width=".5"/>
<polygon points="274.6,256.5 307.8,273.6 306.4,297.1 274.5,279.3" fill="url(#scr)"/>
<polygon points="260.5,294.2 294.0,314.8 278.5,324.2 247.2,304.5" fill="#666" opacity=".35" filter="url(#b1)"/>
<polygon points="259.1,293.8 292.6,314.4 277.1,323.8 245.8,304.1" fill="#6c7074" stroke="#6c7074" stroke-width="1.43" stroke-linejoin="round"/>
<polygon points="259.1,292.3 292.6,312.9 277.1,322.3 245.8,302.6" fill="url(#kb)" stroke="#b4b8bb" stroke-width="1.43" stroke-linejoin="round"/>
<polygon points="259.5,293.6 290.5,312.7 281.6,318.2 251.7,299.6" fill="#17191b" stroke="#17191b" stroke-width="0.60" stroke-linejoin="round"/>
<line x1="257.9" y1="295.7" x2="287.4" y2="313.9" stroke="#4a4e52" stroke-width="0.42"/>
<line x1="256.0" y1="297.1" x2="285.2" y2="315.2" stroke="#4a4e52" stroke-width="0.42"/>
<line x1="254.2" y1="298.5" x2="283.1" y2="316.5" stroke="#4a4e52" stroke-width="0.42"/>
<line x1="260.7" y1="295.7" x2="254.2" y2="300.6" stroke="#3a3d40" stroke-width="0.30"/>
<line x1="263.0" y1="297.1" x2="256.4" y2="302.0" stroke="#3a3d40" stroke-width="0.30"/>
<line x1="265.2" y1="298.4" x2="258.5" y2="303.3" stroke="#3a3d40" stroke-width="0.30"/>
<line x1="267.4" y1="299.8" x2="260.6" y2="304.6" stroke="#3a3d40" stroke-width="0.30"/>
<line x1="269.6" y1="301.2" x2="262.8" y2="306.0" stroke="#3a3d40" stroke-width="0.30"/>
<line x1="271.8" y1="302.5" x2="264.9" y2="307.3" stroke="#3a3d40" stroke-width="0.30"/>
<line x1="274.0" y1="303.9" x2="267.1" y2="308.6" stroke="#3a3d40" stroke-width="0.30"/>
<line x1="276.2" y1="305.2" x2="269.2" y2="310.0" stroke="#3a3d40" stroke-width="0.30"/>
<line x1="278.4" y1="306.6" x2="271.3" y2="311.3" stroke="#3a3d40" stroke-width="0.30"/>
<line x1="280.6" y1="308.0" x2="273.5" y2="312.6" stroke="#3a3d40" stroke-width="0.30"/>
<line x1="282.8" y1="309.3" x2="275.6" y2="313.9" stroke="#3a3d40" stroke-width="0.30"/>
<line x1="285.0" y1="310.7" x2="277.7" y2="315.3" stroke="#3a3d40" stroke-width="0.30"/>
<line x1="287.2" y1="312.0" x2="279.9" y2="316.6" stroke="#3a3d40" stroke-width="0.30"/>
<line x1="282.0" y1="308.1" x2="274.2" y2="313.1" stroke="#5a5e62" stroke-width="0.54"/>
<line x1="259.8" y1="294.3" x2="289.5" y2="312.6" stroke="#7fa9c9" stroke-width="0.60"/>
<line x1="268.2" y1="299.8" x2="271.9" y2="302.1" stroke="#5a9ed6" stroke-width="0.66"/>
<line x1="275.9" y1="304.5" x2="279.4" y2="306.6" stroke="#5a9ed6" stroke-width="0.66"/>
<line x1="283.7" y1="309.3" x2="288.3" y2="312.2" stroke="#5a9ed6" stroke-width="0.66"/>
<circle cx="277.3" cy="313.4" r="0.66" fill="#e8eaec"/>
<circle cx="279.4" cy="314.7" r="0.66" fill="#e8eaec"/>
<g transform="translate(290.3,322.3) rotate(-25) scale(1.00)">
<ellipse cx="0.6" cy="1.2" rx="5.4" ry="3.2" fill="#555" opacity=".3" filter="url(#b1)"/>
<ellipse cx="0" cy="0.5" rx="4.9" ry="2.9" fill="#3a3c3f"/>
<ellipse cx="0" cy="0" rx="4.6" ry="2.6" fill="#55585b"/>
<ellipse cx="-0.9" cy="0.1" rx="3.4" ry="1.9" fill="#dcdfe2"/>
<ellipse cx="2.7" cy="-0.2" rx="1.7" ry="1.8" fill="#26282a"/>
<ellipse cx="2.2" cy="-1.1" rx="1.1" ry="0.5" fill="#6fa8d8" opacity=".7"/>
</g>
</g>
<g id="pc7">
<ellipse cx="647.7" cy="286.3" rx="26.5" ry="10.6" fill="#d3e9fb" opacity=".5" filter="url(#b3)" transform="rotate(24 647.7 285.3)"/>
<ellipse cx="654.4" cy="282.0" rx="16.4" ry="5.7" fill="#555" opacity=".2" filter="url(#b3)"/>
<ellipse cx="681.5" cy="279.5" rx="11.3" ry="14.5" fill="#60646a" opacity=".11" filter="url(#b3)" transform="rotate(-25 681.5 279.5)"/>
<ellipse cx="649.6" cy="281.7" rx="10.9" ry="4.4" fill="#5d6164"/>
<ellipse cx="649.6" cy="280.7" rx="10.9" ry="4.4" fill="#a3a8ac" stroke="#4b5054" stroke-width="1.29"/>
<ellipse cx="649.6" cy="281.0" rx="7.4" ry="2.6" fill="#8ea9bd" stroke="#dfe3e6" stroke-width="0.56" opacity=".9"/>
<polygon points="646.7,272.6 657.4,277.3 653.2,281.4 646.0,280.0" fill="#55595d"/>
<polygon points="681.1,260.1 682.2,261.1 674.5,287.2 673.4,287.6" fill="#55595c"/>
<polygon points="636.6,241.3 637.3,240.9 682.2,261.1 681.1,260.1" fill="#9da1a4"/>
<polygon points="636.6,241.3 681.1,260.1 673.4,287.6 628.9,267.9" fill="url(#fr)" stroke="#7b7f83" stroke-width=".5"/>
<polygon points="638.1,243.7 678.4,260.8 671.7,284.7 631.4,266.9" fill="url(#scr)"/>
<polygon points="620.3,281.8 664.0,301.9 654.6,311.3 611.7,290.7" fill="#666" opacity=".35" filter="url(#b1)"/>
<polygon points="618.6,281.4 662.3,301.5 652.9,310.9 610.0,290.3" fill="#6c7074" stroke="#6c7074" stroke-width="1.75" stroke-linejoin="round"/>
<polygon points="618.6,279.5 662.3,299.6 652.9,309.0 610.0,288.4" fill="url(#kb)" stroke="#b4b8bb" stroke-width="1.75" stroke-linejoin="round"/>
<polygon points="619.6,280.7 660.2,299.5 654.8,304.9 614.6,285.9" fill="#17191b" stroke="#17191b" stroke-width="0.73" stroke-linejoin="round"/>
<line x1="619.0" y1="282.6" x2="657.9" y2="300.6" stroke="#4a4e52" stroke-width="0.51"/>
<line x1="617.8" y1="283.8" x2="656.6" y2="301.9" stroke="#4a4e52" stroke-width="0.51"/>
<line x1="616.6" y1="285.0" x2="655.3" y2="303.2" stroke="#4a4e52" stroke-width="0.51"/>
<line x1="621.9" y1="282.7" x2="617.7" y2="287.0" stroke="#3a3d40" stroke-width="0.36"/>
<line x1="624.8" y1="284.0" x2="620.6" y2="288.4" stroke="#3a3d40" stroke-width="0.36"/>
<line x1="627.7" y1="285.4" x2="623.5" y2="289.7" stroke="#3a3d40" stroke-width="0.36"/>
<line x1="630.6" y1="286.7" x2="626.3" y2="291.1" stroke="#3a3d40" stroke-width="0.36"/>
<line x1="633.5" y1="288.1" x2="629.2" y2="292.4" stroke="#3a3d40" stroke-width="0.36"/>
<line x1="636.4" y1="289.4" x2="632.1" y2="293.8" stroke="#3a3d40" stroke-width="0.36"/>
<line x1="639.3" y1="290.7" x2="635.0" y2="295.1" stroke="#3a3d40" stroke-width="0.36"/>
<line x1="642.2" y1="292.1" x2="637.8" y2="296.5" stroke="#3a3d40" stroke-width="0.36"/>
<line x1="645.1" y1="293.4" x2="640.7" y2="297.9" stroke="#3a3d40" stroke-width="0.36"/>
<line x1="648.0" y1="294.8" x2="643.6" y2="299.2" stroke="#3a3d40" stroke-width="0.36"/>
<line x1="650.9" y1="296.1" x2="646.4" y2="300.6" stroke="#3a3d40" stroke-width="0.36"/>
<line x1="653.8" y1="297.4" x2="649.3" y2="301.9" stroke="#3a3d40" stroke-width="0.36"/>
<line x1="656.7" y1="298.8" x2="652.2" y2="303.3" stroke="#3a3d40" stroke-width="0.36"/>
<line x1="649.4" y1="294.9" x2="644.6" y2="299.7" stroke="#5a5e62" stroke-width="0.66"/>
<line x1="620.2" y1="281.3" x2="659.2" y2="299.3" stroke="#7fa9c9" stroke-width="0.73"/>
<line x1="631.4" y1="286.7" x2="636.3" y2="289.0" stroke="#5a9ed6" stroke-width="0.80"/>
<line x1="641.6" y1="291.4" x2="646.0" y2="293.5" stroke="#5a9ed6" stroke-width="0.80"/>
<line x1="651.7" y1="296.1" x2="657.8" y2="298.9" stroke="#5a9ed6" stroke-width="0.80"/>
<circle cx="647.8" cy="300.0" r="0.80" fill="#e8eaec"/>
<circle cx="650.6" cy="301.4" r="0.80" fill="#e8eaec"/>
<g transform="translate(664.0,308.0) rotate(-25) scale(1.00)">
<ellipse cx="0.6" cy="1.2" rx="5.4" ry="3.2" fill="#555" opacity=".3" filter="url(#b1)"/>
<ellipse cx="0" cy="0.5" rx="4.9" ry="2.9" fill="#3a3c3f"/>
<ellipse cx="0" cy="0" rx="4.6" ry="2.6" fill="#55585b"/>
<ellipse cx="-0.9" cy="0.1" rx="3.4" ry="1.9" fill="#dcdfe2"/>
<ellipse cx="2.7" cy="-0.2" rx="1.7" ry="1.8" fill="#26282a"/>
<ellipse cx="2.2" cy="-1.1" rx="1.1" ry="0.5" fill="#6fa8d8" opacity=".7"/>
</g>
</g>
<g id="pc8">
<ellipse cx="500.9" cy="428.8" rx="30.6" ry="12.2" fill="#d3e9fb" opacity=".5" filter="url(#b3)" transform="rotate(24 500.9 427.8)"/>
<ellipse cx="510.7" cy="423.5" rx="19.5" ry="7.8" fill="#555" opacity=".2" filter="url(#b3)"/>
<ellipse cx="539.5" cy="422.1" rx="13.3" ry="17.2" fill="#60646a" opacity=".11" filter="url(#b3)" transform="rotate(-25 539.5 422.1)"/>
<ellipse cx="505.0" cy="423.1" rx="13.0" ry="6.0" fill="#5d6164"/>
<ellipse cx="505.0" cy="422.0" rx="13.0" ry="6.0" fill="#a3a8ac" stroke="#4b5054" stroke-width="1.52"/>
<ellipse cx="505.0" cy="422.4" rx="8.8" ry="3.6" fill="#8ea9bd" stroke="#dfe3e6" stroke-width="0.67" opacity=".9"/>
<polygon points="501.2,411.5 512.7,418.0 509.3,422.9 500.7,421.1" fill="#55595d"/>
<polygon points="537.4,403.0 538.7,404.2 531.3,431.1 530.0,431.6" fill="#55595c"/>
<polygon points="487.0,376.0 487.8,375.5 538.7,404.2 537.4,403.0" fill="#9da1a4"/>
<polygon points="487.0,376.0 537.4,403.0 530.0,431.6 482.0,404.4" fill="url(#fr)" stroke="#7b7f83" stroke-width=".5"/>
<polygon points="489.0,378.9 534.4,403.4 528.1,428.2 484.5,403.6" fill="url(#scr)"/>
<polygon points="470.0,421.7 518.0,449.7 503.0,463.7 458.4,435.7" fill="#666" opacity=".35" filter="url(#b1)"/>
<polygon points="468.0,421.2 516.0,449.2 501.0,463.2 456.4,435.2" fill="#6c7074" stroke="#6c7074" stroke-width="2.02" stroke-linejoin="round"/>
<polygon points="468.0,419.0 516.0,447.0 501.0,461.0 456.4,433.0" fill="url(#kb)" stroke="#b4b8bb" stroke-width="2.02" stroke-linejoin="round"/>
<polygon points="469.0,420.8 513.4,446.9 504.8,455.0 462.2,428.9" fill="#17191b" stroke="#17191b" stroke-width="0.84" stroke-linejoin="round"/>
<line x1="468.0" y1="423.6" x2="510.1" y2="448.6" stroke="#4a4e52" stroke-width="0.59"/>
<line x1="466.3" y1="425.6" x2="508.1" y2="450.6" stroke="#4a4e52" stroke-width="0.59"/>
<line x1="464.7" y1="427.5" x2="506.0" y2="452.5" stroke="#4a4e52" stroke-width="0.59"/>
<line x1="471.3" y1="423.7" x2="465.6" y2="430.4" stroke="#3a3d40" stroke-width="0.42"/>
<line x1="474.5" y1="425.5" x2="468.6" y2="432.3" stroke="#3a3d40" stroke-width="0.42"/>
<line x1="477.6" y1="427.4" x2="471.7" y2="434.1" stroke="#3a3d40" stroke-width="0.42"/>
<line x1="480.8" y1="429.2" x2="474.7" y2="436.0" stroke="#3a3d40" stroke-width="0.42"/>
<line x1="484.0" y1="431.1" x2="477.8" y2="437.8" stroke="#3a3d40" stroke-width="0.42"/>
<line x1="487.1" y1="433.0" x2="480.8" y2="439.7" stroke="#3a3d40" stroke-width="0.42"/>
<line x1="490.3" y1="434.8" x2="483.9" y2="441.6" stroke="#3a3d40" stroke-width="0.42"/>
<line x1="493.4" y1="436.7" x2="486.9" y2="443.4" stroke="#3a3d40" stroke-width="0.42"/>
<line x1="496.6" y1="438.5" x2="490.0" y2="445.3" stroke="#3a3d40" stroke-width="0.42"/>
<line x1="499.8" y1="440.4" x2="493.0" y2="447.1" stroke="#3a3d40" stroke-width="0.42"/>
<line x1="502.9" y1="442.3" x2="496.1" y2="449.0" stroke="#3a3d40" stroke-width="0.42"/>
<line x1="506.1" y1="444.1" x2="499.1" y2="450.9" stroke="#3a3d40" stroke-width="0.42"/>
<line x1="509.2" y1="446.0" x2="502.2" y2="452.7" stroke="#3a3d40" stroke-width="0.42"/>
<line x1="501.5" y1="440.5" x2="494.1" y2="447.8" stroke="#5a5e62" stroke-width="0.76"/>
<line x1="469.6" y1="421.7" x2="512.2" y2="446.7" stroke="#7fa9c9" stroke-width="0.84"/>
<line x1="481.8" y1="429.2" x2="487.1" y2="432.3" stroke="#5a9ed6" stroke-width="0.93"/>
<line x1="492.9" y1="435.7" x2="497.8" y2="438.6" stroke="#5a9ed6" stroke-width="0.93"/>
<line x1="504.0" y1="442.2" x2="510.6" y2="446.1" stroke="#5a9ed6" stroke-width="0.93"/>
<circle cx="497.9" cy="448.1" r="0.93" fill="#e8eaec"/>
<circle cx="500.9" cy="450.0" r="0.93" fill="#e8eaec"/>
<g transform="translate(516.0,460.4) rotate(-25) scale(1.30)">
<ellipse cx="0.6" cy="1.2" rx="5.4" ry="3.2" fill="#555" opacity=".3" filter="url(#b1)"/>
<ellipse cx="0" cy="0.5" rx="4.9" ry="2.9" fill="#3a3c3f"/>
<ellipse cx="0" cy="0" rx="4.6" ry="2.6" fill="#55585b"/>
<ellipse cx="-0.9" cy="0.1" rx="3.4" ry="1.9" fill="#dcdfe2"/>
<ellipse cx="2.7" cy="-0.2" rx="1.7" ry="1.8" fill="#26282a"/>
<ellipse cx="2.2" cy="-1.1" rx="1.1" ry="0.5" fill="#6fa8d8" opacity=".7"/>
</g>
</g>
<g id="bigarrow">
<polygon points="183.1,122.5 207.1,121.6 204.3,124.2 440.7,238.9 445.0,236.0 449.5,253.0 419.6,254.1 422.6,249.8 186.0,130.9 180.9,133.5" fill="#2167cc"/>
<polygon points="183.1,121.0 207.1,120.1 204.3,122.7 440.7,237.4 445.0,234.5 449.5,251.5 419.6,252.6 422.6,248.3 186.0,129.4 180.9,132.0" fill="url(#big)"/>
</g>
<g id="serverB"><polygon points="440.0,256.0 480.0,225.6 503.0,237.0 498.0,286.0 459.2,315.2 436.1,304.0" fill="#2e2f30" stroke="#2e2f30" stroke-width=".5" stroke-linejoin="round"/>
<polygon points="463.0,268.0 503.0,237.0 498.0,286.0 459.2,315.2" fill="url(#svB)" stroke="url(#svB)" stroke-width=".5"/>
<polygon points="440.0,256.0 480.0,225.6 503.0,237.0 463.0,268.0" fill="url(#stB)"/>
<polygon points="440.0,256.0 463.0,268.0 459.2,315.2 436.1,304.0" fill="url(#sfB)" stroke="url(#sfB)" stroke-width=".6" stroke-linejoin="round"/>
<polygon points="441.2,261.4 458.7,270.5 455.4,311.2 437.9,302.6" fill="#2b2c2e" stroke="#1d1e1f" stroke-width=".6" stroke-linejoin="round"/>
<polygon points="441.2,261.4 458.7,270.5 458.6,272.3 441.1,263.3" fill="#0f1011"/>
<polygon points="442.2,264.9 457.3,272.7 455.9,289.4 440.9,281.8" fill="#252628" stroke="#343638" stroke-width=".5"/>
<line x1="440.1" y1="282.3" x2="456.6" y2="290.5" stroke="#3a3c3e" stroke-width=".7"/>
<rect x="445.7" y="289.5" width="3" height="3.4" rx=".9" fill="#b9bbbd"/>
<rect x="446.5" y="290.3" width="1.4" height="1.8" rx=".4" fill="#6a6c6e"/>
<rect x="446.0" y="295.7" width="1.6" height="2" rx=".5" fill="#3c3e40"/></g>
</svg>
</body>
</html>
